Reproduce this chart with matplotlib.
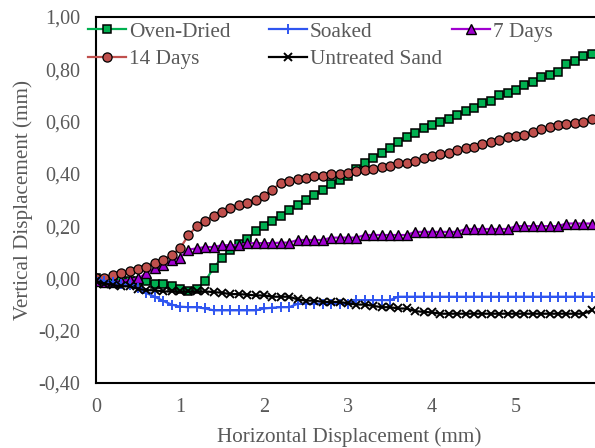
import matplotlib
matplotlib.use("Agg")
import matplotlib.pyplot as plt
import numpy as np

# --- data ---
x = np.round(np.arange(0, 6.0, 0.1), 1)

oven_dried = [0.00, -0.005, -0.01, -0.01, -0.01, -0.01, -0.01, -0.02, -0.02, -0.03,
              -0.04, -0.05, -0.04, -0.01, 0.04, 0.08, 0.11, 0.13, 0.15, 0.18,
              0.20, 0.22, 0.24, 0.26, 0.28, 0.30, 0.32, 0.34, 0.36, 0.375,
              0.39, 0.42, 0.44, 0.46, 0.48, 0.50, 0.52, 0.54, 0.555, 0.575,
              0.585, 0.60, 0.61, 0.625, 0.64, 0.65, 0.67, 0.68, 0.70, 0.71,
              0.72, 0.74, 0.75, 0.77, 0.78, 0.79, 0.82, 0.83, 0.85, 0.86]

soaked = [0.00, -0.01, -0.015, -0.02, -0.025, -0.037, -0.056, -0.07, -0.086, -0.10,
          -0.108, -0.11, -0.11, -0.115, -0.122, -0.122, -0.122, -0.122, -0.122, -0.122,
          -0.115, -0.112, -0.11, -0.11, -0.097, -0.097, -0.097, -0.097, -0.097, -0.097,
          -0.097, -0.083, -0.083, -0.083, -0.083, -0.083, -0.07, -0.07, -0.07, -0.07,
          -0.07, -0.07, -0.07, -0.07, -0.07, -0.07, -0.07, -0.07, -0.07, -0.07,
          -0.07, -0.07, -0.07, -0.07, -0.07, -0.07, -0.07, -0.07, -0.07, -0.07]

days_7 = [-0.01, -0.015, -0.015, -0.01, -0.005, 0.00, 0.02, 0.04, 0.05, 0.07,
          0.08, 0.11, 0.115, 0.12, 0.12, 0.127, 0.127, 0.127, 0.134, 0.135,
          0.135, 0.135, 0.137, 0.137, 0.147, 0.147, 0.147, 0.147, 0.156, 0.156,
          0.156, 0.156, 0.166, 0.166, 0.166, 0.166, 0.166, 0.166, 0.178, 0.178,
          0.178, 0.178, 0.178, 0.178, 0.189, 0.189, 0.189, 0.189, 0.189, 0.189,
          0.20, 0.20, 0.20, 0.20, 0.20, 0.20, 0.21, 0.21, 0.21, 0.21]

days_14 = [0.00, 0.00, 0.012, 0.02, 0.03, 0.035, 0.045, 0.06, 0.07, 0.09,
           0.115, 0.165, 0.20, 0.22, 0.24, 0.255, 0.27, 0.28, 0.29, 0.30,
           0.315, 0.34, 0.365, 0.372, 0.38, 0.385, 0.39, 0.392, 0.40, 0.40,
           0.403, 0.41, 0.415, 0.42, 0.425, 0.43, 0.44, 0.442, 0.45, 0.46,
           0.47, 0.475, 0.48, 0.49, 0.50, 0.502, 0.515, 0.52, 0.53, 0.54,
           0.545, 0.55, 0.56, 0.57, 0.58, 0.585, 0.59, 0.595, 0.60, 0.61]

untreated = [-0.01, -0.02, -0.025, -0.03, -0.03, -0.04, -0.045, -0.045, -0.05, -0.05,
             -0.05, -0.05, -0.05, -0.05, -0.052, -0.055, -0.06, -0.06, -0.062, -0.065,
             -0.065, -0.07, -0.07, -0.07, -0.08, -0.085, -0.085, -0.09, -0.09, -0.09,
             -0.095, -0.10, -0.10, -0.105, -0.11, -0.11, -0.115, -0.115, -0.125, -0.128,
             -0.13, -0.135, -0.135, -0.135, -0.135, -0.135, -0.135, -0.135, -0.135, -0.135,
             -0.135, -0.135, -0.135, -0.135, -0.135, -0.135, -0.135, -0.135, -0.135, -0.122]

y_ticks = [-0.4, -0.2, 0.0, 0.2, 0.4, 0.6, 0.8, 1.0]
x_ticks = [0, 1, 2, 3, 4, 5]

# --- style ---
plt.rcParams['font.family'] = ['Liberation Serif', 'DejaVu Serif']
gris = '#595959'

fig = plt.figure(figsize=(5.95, 4.48), dpi=100)
# the right edge of the axes lies just outside the picture (cropped like the original)
ax = fig.add_axes([96 / 595, 65 / 448, 504 / 595, 366 / 448])

l_oven, = ax.plot(x, oven_dried, color='#00B050', lw=1.6, marker='s', ms=6.4,
                  mfc='#00B050', mec='black', mew=1.1)
l_7, = ax.plot(x, days_7, color='#A000D0', lw=1.6, marker='^', ms=6.6,
               mfc='#A000D0', mec='black', mew=1.0)
l_14, = ax.plot(x, days_14, color='#C0504D', lw=1.6, marker='o', ms=6.6,
                mfc='#C0504D', mec='black', mew=0.9)
l_soak, = ax.plot(x, soaked, color='#2F55F0', lw=1.6, marker='+', ms=7,
                  mew=1.4)
l_unt, = ax.plot(x, untreated, color='black', lw=1.6, marker='x', ms=6,
                 mew=1.4)

ax.set_xlim(0, 6)
ax.set_ylim(-0.4, 1.0)
ax.set_xticks(x_ticks)
ax.set_yticks(y_ticks)
ax.set_yticklabels([f"{v:.2f}".replace('.', ',') for v in y_ticks])
ax.tick_params(length=0, labelsize=14.5, labelcolor=gris)
ax.tick_params(axis='x', pad=11)
ax.tick_params(axis='y', pad=11.5)

for s in ['left', 'top', 'bottom']:
    ax.spines[s].set_linewidth(1.5)
    ax.spines[s].set_color('black')
ax.spines['right'].set_visible(False)

ax.set_xlabel('Horizontal Displacement (mm)', fontsize=15.2, color=gris)
ax.set_ylabel('Vertical Displacement (mm)', fontsize=15.2, color=gris)
ax.xaxis.set_label_coords(0.502, -0.12)
ax.yaxis.set_label_coords(-0.125, 0.5)

# legend: three equal columns as in the original
cols = [([l_oven, l_14], ['Oven-Dried', '14 Days'], 88),
        ([l_soak, l_unt], ['Soaked', 'Untreated Sand'], 269),
        ([l_7], ['7 Days'], 452)]
for handles, labels, px in cols:
    leg = ax.legend(handles, labels, loc='upper left',
                    bbox_to_anchor=(px / 595, 1 - 22 / 448),
                    bbox_transform=fig.transFigure, frameon=False,
                    fontsize=15.3, labelcolor=gris, borderpad=0,
                    borderaxespad=0, handlelength=1.78, handletextpad=0.15,
                    labelspacing=0.36, numpoints=1)
    ax.add_artist(leg)
ax.legend_ = None

fig.savefig('out.png', dpi=100)
